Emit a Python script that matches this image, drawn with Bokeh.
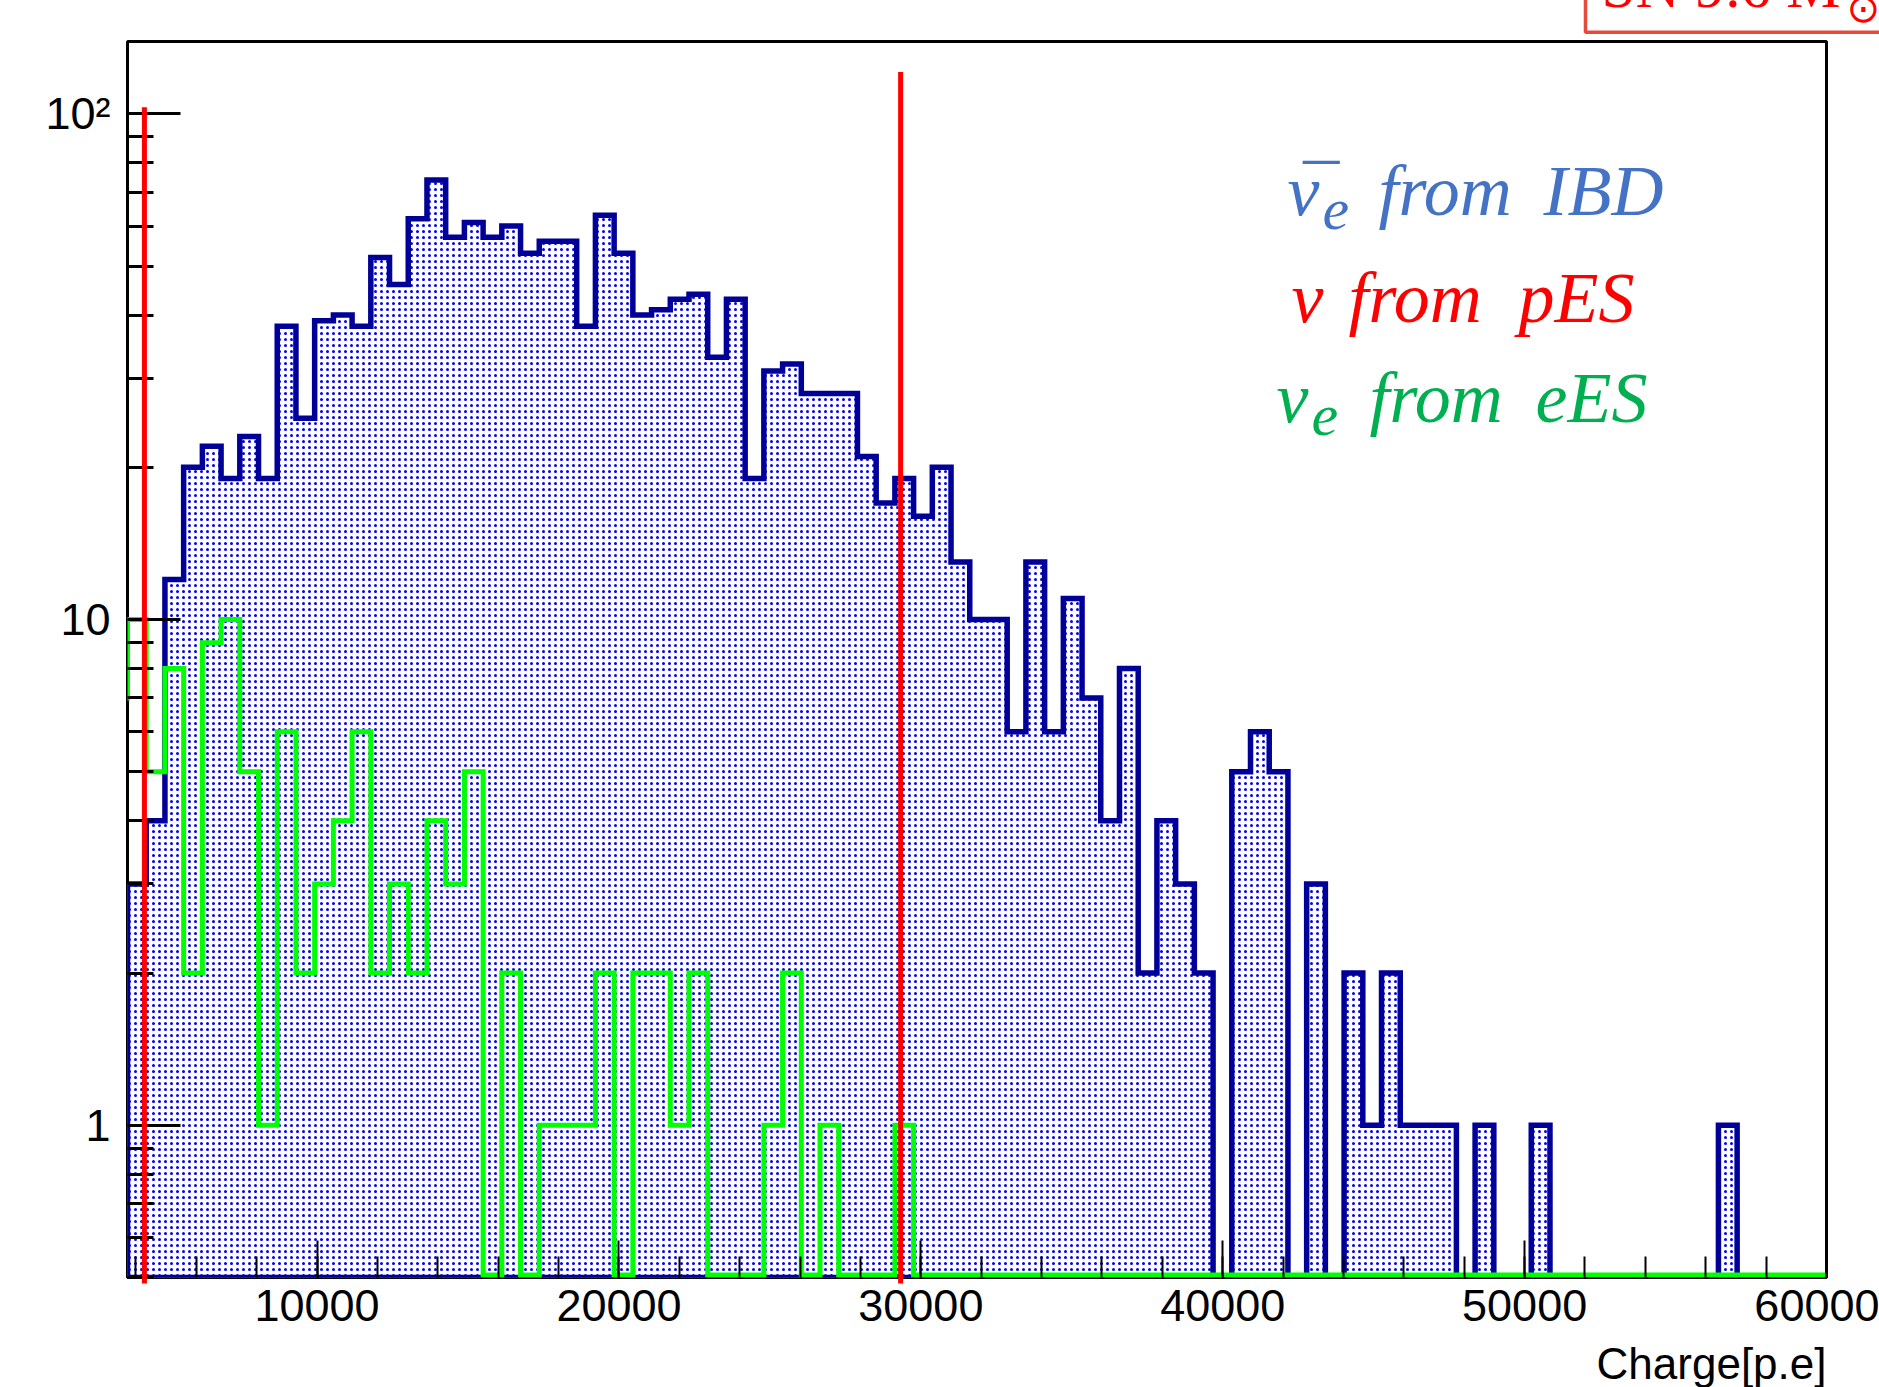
from math import log10
from bokeh.plotting import figure
from bokeh.models import FixedTicker
from bokeh.core.properties import value
from bokeh.embed import file_html
from bokeh.resources import INLINE

# ---------------- data ----------------
bin_width = 620.0
ibd_first_edge = 3720.0          # left edge of first IBD bin shown
ibd_counts = [3, 4, 12, 20, 22, 19, 23, 19, 38, 25, 39, 40, 38, 52, 46, 62, 74, 57, 61, 57,
              60, 53, 56, 56, 38, 63, 53, 40, 41, 43, 44, 33, 43, 19, 31, 32, 28, 28, 28, 21,
              17, 19, 16, 20, 13, 10, 10, 6, 13, 6, 11, 7, 4, 8, 2, 4, 3, 2, 0, 5,
              6, 5, 0, 3, 0, 2, 1, 2, 1, 1, 1, 0, 1, 0, 0, 1, 0, 0, 0, 0,
              0, 0, 0, 0, 0, 1, 0, 0, 0, 0, 0]
ees_first_edge = 3100.0
ees_counts = [7, 10, 5, 8, 2, 9, 10, 5, 1, 6, 2, 3, 4, 6, 2, 3, 2, 4, 3, 5,
              0, 2, 0, 1, 1, 1, 2, 0, 2, 2, 1, 2, 0, 0, 0, 1, 2, 0, 1, 0,
              0, 0, 1] + [0] * 49
cut_x = [4280.0, 29330.0]        # red vertical lines (pES window)
cut_top = [103.0, 121.0]

x_major = [10000, 20000, 30000, 40000, 50000, 60000]
x_minor = list(range(4000, 60001, 2000))
y_major = [1, 10, 100]
y_minor = [m * 10.0 ** e for e in (-1, 0, 1, 2) for m in range(2, 10)]
y_labels = {1: "1", 10: "10", 100: "10\u00b2"}

X0, X1 = 3720.0, 60000.0
Y0, Y1 = 0.5, 139.0

# ---------------- layout (pixels on the 1879x1387 canvas) ----------------
W, H = 1879, 1387
FL, FR, FT, FB = 127, 1826, 41, 1277
BASE_SHIFT = 0.34   # text anchor correction, in em


def px2x(px):
    return X0 + (px - FL) * (X1 - X0) / (FR - FL)


def py2y(py):
    return 10 ** (log10(Y0) + (FB - py) * (log10(Y1) - log10(Y0)) / (FB - FT))


def base_y(py, fs):
    return py2y(py - BASE_SHIFT * fs)


def steps(x0, w, counts, floor):
    xs, ys = [], []
    for i, c in enumerate(counts):
        v = c if c > 0 else floor
        xs += [x0 + i * w, x0 + (i + 1) * w]
        ys += [v, v]
    return xs, ys


p = figure(width=W, height=H, x_range=(X0, X1), y_range=(Y0, Y1), y_axis_type="log",
           output_backend="svg", toolbar_location=None,
           min_border_left=FL, min_border_right=W - FR, min_border_top=FT,
           min_border_bottom=H - FB)
p.background_fill_color = "white"
p.border_fill_color = "white"
p.outline_line_color = "black"
p.outline_line_width = 3
p.xgrid.visible = False
p.ygrid.visible = False

# IBD histogram (filled, dotted)
bx, by = steps(ibd_first_edge, bin_width, ibd_counts, Y0)
bx = [bx[0]] + bx + [bx[-1]]
by = [Y0] + by + [Y0]
p.patch(bx, by, fill_color="white", hatch_pattern="dot", hatch_color="#0000ff",
        hatch_scale=6, hatch_weight=2, line_color="#000099", line_width=5.5,
        line_join="miter")

# eES histogram (green outline)
gx, gy = steps(ees_first_edge, bin_width, ees_counts, py2y(FB - 2.5))
p.line(gx, gy, line_color="#00ff00", line_width=5, line_join="miter")

# red cut lines
seg = p.segment(x0=cut_x, y0=[py2y(FB + 6)] * len(cut_x), x1=cut_x, y1=cut_top,
                line_color="#ff0000", line_width=5)
seg.level = "overlay"

# axes
xa = p.xaxis[0]
xa.ticker = FixedTicker(ticks=x_major, minor_ticks=x_minor)
xa.axis_line_color = None
xa.major_tick_in = 37
xa.major_tick_out = 0
xa.minor_tick_in = 21
xa.minor_tick_out = 0
xa.major_tick_line_width = 2
xa.minor_tick_line_width = 2
xa.major_tick_line_color = "black"
xa.minor_tick_line_color = "black"
xa.major_label_text_font = "Liberation Sans"
xa.major_label_text_font_size = "45px"
xa.major_label_text_color = "black"
xa.major_label_standoff = 12

ya = p.yaxis[0]
ya.ticker = FixedTicker(ticks=y_major, minor_ticks=y_minor)
ya.major_label_overrides = y_labels
ya.axis_line_color = None
ya.major_tick_in = 53
ya.major_tick_out = 0
ya.minor_tick_in = 26
ya.minor_tick_out = 0
ya.major_tick_line_width = 3
ya.minor_tick_line_width = 3
ya.major_tick_line_color = "black"
ya.minor_tick_line_color = "black"
ya.major_label_text_font = "Liberation Sans"
ya.major_label_text_font_size = "45px"
ya.major_label_text_color = "black"
ya.major_label_standoff = 17

# x axis title, right aligned at the frame edge
t = p.text(x=[px2x(FR)], y=[base_y(1378, 44)], text=["Charge[p.e]"], text_align="right",
           text_baseline="alphabetic", text_font=value("Liberation Sans"),
           text_font_size="44px", text_color="black")
t.level = "overlay"

# legend-like texts (italic serif, coloured)
BLUE, RED, GREEN = "#4472C4", "#FF0000", "#00B050"
pieces = [
    ("\u03bd", 1287, 215, 72, BLUE), ("\u00af", 1297, 215, 72, BLUE),
    ("e", 1322, 229, 60, BLUE), ("from", 1378, 215, 72, BLUE), ("IBD", 1543, 215, 72, BLUE),
    ("\u03bd", 1291, 322, 72, RED), ("from", 1348, 322, 72, RED), ("pES", 1518, 322, 72, RED),
    ("\u03bd", 1276, 422, 72, GREEN), ("e", 1311, 435, 60, GREEN),
    ("from", 1369, 422, 72, GREEN), ("eES", 1535, 422, 72, GREEN),
]
p.text(x=[px2x(a[1]) for a in pieces], y=[base_y(a[2], a[3]) for a in pieces],
       text=[a[0] for a in pieces], text_font_size=[f"{a[3]}px" for a in pieces],
       text_color=[a[4] for a in pieces], text_align="left", text_baseline="alphabetic",
       text_font=value("Liberation Serif"), text_font_style="italic")

# boxed label at the top right, cut by the canvas edge
box = p.quad(left=[px2x(1585)], right=[px2x(1990)], bottom=[py2y(31.7)], top=[py2y(-80)],
             fill_color=None, line_color="#E64A3C", line_width=3.5)
box.level = "overlay"
sn = p.text(x=[px2x(1601)], y=[base_y(7, 61)], text=["SN 9.6 M"], text_align="left",
            text_baseline="alphabetic", text_font=value("Liberation Serif"),
            text_font_size="61px", text_color="#FF0000")
sn.level = "overlay"
sun = p.text(x=[px2x(1846)], y=[base_y(21, 40)], text=["\u2299"], text_align="left",
             text_baseline="alphabetic", text_font=value("DejaVu Sans"),
             text_font_size="40px", text_color="#FF0000")
sun.level = "overlay"

open("out.html", "w").write(file_html(p, INLINE))
